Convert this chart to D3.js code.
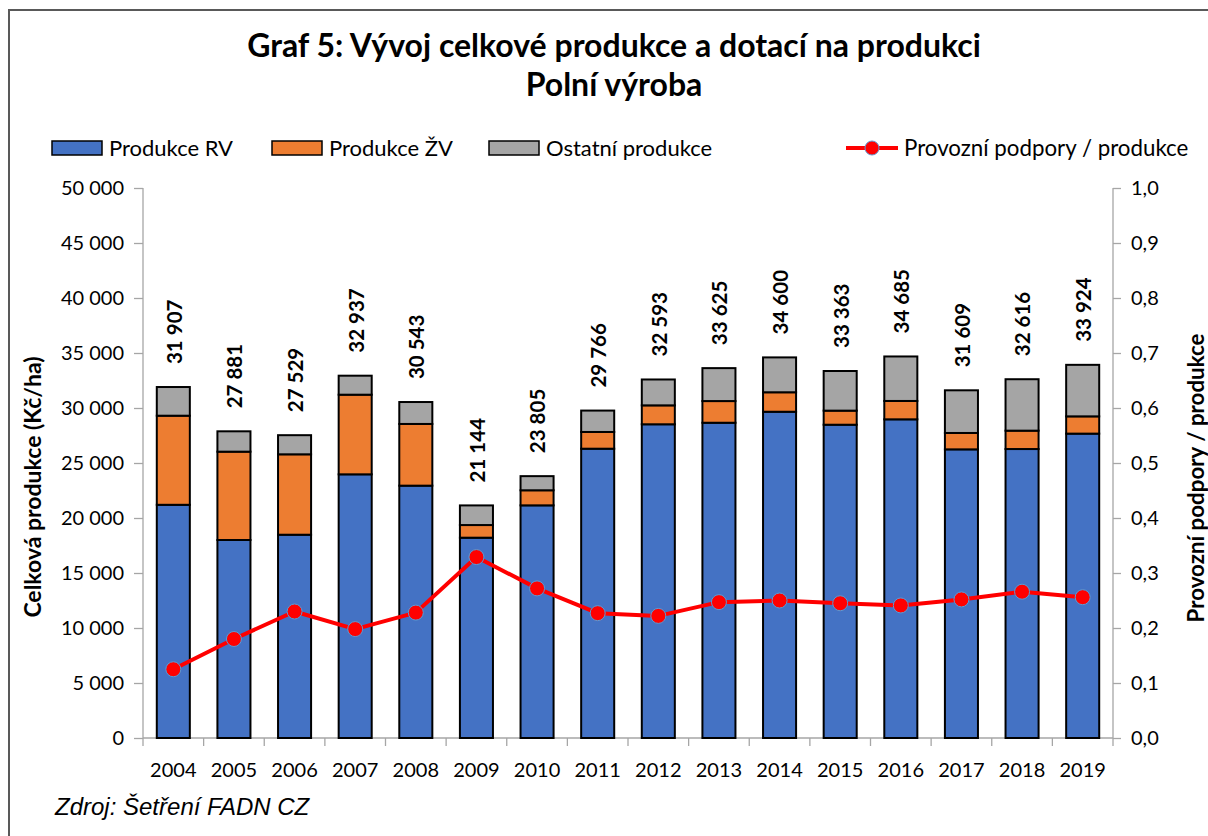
<!DOCTYPE html>
<html><head><meta charset="utf-8">
<script src="https://cdn.jsdelivr.net/npm/d3@7/dist/d3.min.js"></script>
<style>
html,body{margin:0;padding:0;background:#fff;}
svg{display:block;}
text{font-family:Lato,"Noto Sans",sans-serif;fill:#000;}
</style></head>
<body>
<svg id="c" width="1208" height="836"></svg>
<script>
const years = ["2004","2005","2006","2007","2008","2009","2010","2011","2012","2013","2014","2015","2016","2017","2018","2019"];
const produkceRV = [21200,18000,18480,23970,22940,18210,21150,26300,28520,28660,29660,28480,28970,26240,26270,27670];
const produkceZV = [8100,8030,7310,7240,5610,1150,1370,1520,1720,1970,1770,1280,1670,1490,1670,1570];
const ostatni = [2607,1851,1739,1727,1993,1784,1285,1946,2353,2995,3170,3603,4045,3879,4676,4684];
const totals = [31907,27881,27529,32937,30543,21144,23805,29766,32593,33625,34600,33363,34685,31609,32616,33924];
const podpory = [0.125,0.18,0.23,0.198,0.228,0.329,0.272,0.227,0.222,0.247,0.25,0.245,0.241,0.252,0.266,0.256];
const leftTicks = [0,5000,10000,15000,20000,25000,30000,35000,40000,45000,50000];
const rightTicks = [0,0.1,0.2,0.3,0.4,0.5,0.6,0.7,0.8,0.9,1.0];
const seriesNames = ["Produkce RV","Produkce ŽV","Ostatní produkce"];
const lineName = "Provozní podpory / produkce";
const colors = ["#4472C4","#ED7D31","#A5A5A5"];

const loc = d3.formatLocale({decimal:",",thousands:"\u00a0",grouping:[3],currency:["",""]});
const fmtL = loc.format(",.0f");
const fmtR = loc.format(".1f");

const svg = d3.select("#c");
const L=143, R=1113, T=188, B=738;

// outer border
svg.append("rect").attr("x",9).attr("y",10).attr("width",1300).attr("height",900)
  .attr("fill","none").attr("stroke","#595959").attr("stroke-width",2);

const x = d3.scaleBand().domain(years).range([L,R]).paddingInner(0.455).paddingOuter(0.2275);
const y = d3.scaleLinear().domain([0,50000]).range([B,T]);
const y2 = d3.scaleLinear().domain([0,1]).range([B,T]);

const rows = years.map((yr,i)=>({year:yr, rv:produkceRV[i], zv:produkceZV[i], ost:ostatni[i]}));
const stack = d3.stack().keys(["rv","zv","ost"])(rows);

// axes
const gl = svg.append("g").attr("transform",`translate(${L},0)`)
  .call(d3.axisLeft(y).tickValues(leftTicks).tickFormat(fmtL).tickSize(9).tickPadding(10));
const gr = svg.append("g").attr("transform",`translate(${R},0)`)
  .call(d3.axisRight(y2).tickValues(rightTicks).tickFormat(fmtR).tickSize(8).tickPadding(10));
[gl,gr].forEach(g=>{
  g.selectAll("path,line").attr("stroke","#A6A6A6").attr("stroke-width",1.3);
  g.select(".domain").attr("d",`M0,${T}V${B}`);
  g.selectAll("text").style("font-family","Lato").style("font-size","20px").attr("fill","#000");
});

// x axis
const gx = svg.append("g").attr("transform",`translate(0,${B})`);
gx.append("line").attr("x1",L).attr("x2",R).attr("y1",0).attr("y2",0).attr("stroke","#A6A6A6").attr("stroke-width",1.3);
const bounds = years.map(yr=>x(yr)-x.step()*x.paddingInner()/2).concat([R]);
gx.selectAll("line.tk").data(bounds).join("line").attr("class","tk")
  .attr("x1",d=>d).attr("x2",d=>d).attr("y1",0).attr("y2",8).attr("stroke","#A6A6A6").attr("stroke-width",1.3);
gx.selectAll("text").data(years).join("text")
  .attr("x",d=>x(d)+x.bandwidth()/2).attr("y",39).attr("text-anchor","middle")
  .style("font-size","20px").text(d=>d);

// bars
svg.append("g").selectAll("g").data(stack).join("g").attr("fill",(d,i)=>colors[i])
  .selectAll("rect").data(d=>d).join("rect")
  .attr("x",d=>x(d.data.year)).attr("width",x.bandwidth())
  .attr("y",d=>y(d[1])).attr("height",d=>y(d[0])-y(d[1]))
  .attr("stroke","#000").attr("stroke-width",2);

// total labels
svg.append("g").selectAll("text").data(years).join("text")
  .attr("transform",(d,i)=>`translate(${x(d)+x.bandwidth()/2+1},${y(totals[i])-23}) rotate(-90)`)
  .attr("dy","0.36em").attr("text-anchor","start")
  .style("font-size","20.5px").style("font-weight","bold")
  .text((d,i)=>fmtL(totals[i]));

// line
const line = d3.line().x((d,i)=>x(years[i])+x.bandwidth()/2).y(d=>y2(d));
svg.append("path").datum(podpory).attr("d",line).attr("fill","none")
  .attr("stroke","#FF0000").attr("stroke-width",4).attr("stroke-linejoin","round");
svg.append("g").selectAll("circle").data(podpory).join("circle")
  .attr("cx",(d,i)=>x(years[i])+x.bandwidth()/2).attr("cy",d=>y2(d)).attr("r",7.5)
  .attr("fill","#FF0000").attr("stroke","#5B9BD5").attr("stroke-width",1);

// title
svg.append("text").attr("x",614).attr("y",57).attr("text-anchor","middle")
  .style("font-size","32px").style("font-weight","bold")
  .text("Graf 5: Vývoj celkové produkce a dotací na produkci");
svg.append("text").attr("x",614).attr("y",96).attr("text-anchor","middle")
  .style("font-size","32px").style("font-weight","bold").text("Polní výroba");

// legend
const legX = [52,272,489];
seriesNames.forEach((n,i)=>{
  svg.append("rect").attr("x",legX[i]).attr("y",141).attr("width",50).attr("height",14)
    .attr("fill",colors[i]).attr("stroke","#000").attr("stroke-width",1.5);
  svg.append("text").attr("x",legX[i]+57).attr("y",156).style("font-size","22px").text(n);
});
svg.append("line").attr("x1",846).attr("x2",898).attr("y1",148).attr("y2",148)
  .attr("stroke","#FF0000").attr("stroke-width",4);
svg.append("circle").attr("cx",872).attr("cy",148).attr("r",7).attr("fill","#FF0000")
  .attr("stroke","#5B9BD5").attr("stroke-width",1);
svg.append("text").attr("x",904).attr("y",156).style("font-size","22.3px").text(lineName);

// axis titles
svg.append("text").attr("transform","translate(33,487) rotate(-90)").attr("dy","0.36em")
  .attr("text-anchor","middle").style("font-size","23px").style("font-weight","bold")
  .text("Celková produkce (Kč/ha)");
svg.append("text").attr("transform","translate(1196,478) rotate(-90)").attr("dy","0.36em")
  .attr("text-anchor","middle").style("font-size","22.3px").style("font-weight","bold")
  .text("Provozní podpory / produkce");

// source
svg.append("text").attr("x",55).attr("y",815)
  .style("font-family","'Liberation Sans',Arial,sans-serif").style("font-style","italic").style("font-size","24px")
  .text("Zdroj: Šetření FADN CZ");
</script>
</body></html>
